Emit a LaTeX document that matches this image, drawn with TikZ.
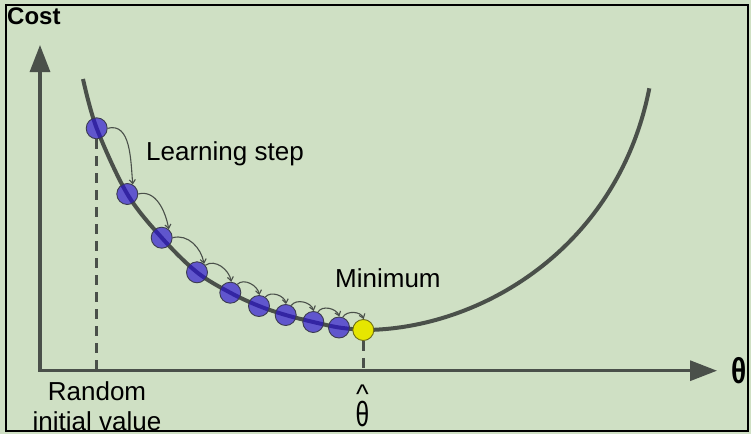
\documentclass[tikz,border=0pt]{standalone}
\usepackage{fontspec}
\setmainfont{Liberation Sans}
\usetikzlibrary{arrows.meta}
\definecolor{bg}{RGB}{207,224,196}
\definecolor{axisgray}{RGB}{74,80,74}
\definecolor{ballblue}{RGB}{40,15,210}
\definecolor{ballyellow}{RGB}{230,230,0}
\definecolor{ballrim}{RGB}{60,60,80}
\definecolor{yellowrim}{RGB}{110,110,20}
\begin{document}
\begin{tikzpicture}[x=1pt,y=-1pt,
  ball/.style={circle,minimum size=21pt,inner sep=0pt,draw=ballrim,line width=0.9pt,fill=ballblue,fill opacity=0.66},
  minball/.style={circle,minimum size=21pt,inner sep=0pt,draw=yellowrim,line width=0.9pt,fill=ballyellow},
  axisline/.style={draw=axisgray,line width=3.2pt,{Triangle[length=27pt,width=20pt]}-{Triangle[length=27pt,width=20pt]}},
  curveline/.style={draw=axisgray,line width=4pt},
  dashline/.style={draw=axisgray,line width=2.5pt,dash pattern=on 10pt off 7pt},
  stepline/.style={draw=axisgray,line width=1.1pt,-{Straight Barb[length=4pt,width=6pt]}},
  lbl/.style={font=\fontsize{26}{30}\selectfont,inner sep=0pt,text=black}]
\useasboundingbox (0,0) rectangle (751,434);
\fill[bg] (0,0) rectangle (751,434);
\draw[black,line width=1.5pt] (6,5) rectangle (748,431);

% axes
\coordinate (ytip) at (40,45);
\coordinate (origin) at (40,370.7);
\coordinate (xtip) at (717,370.7);
\draw[axisline] (ytip) -- (origin) -- (xtip);

% cost curve
\coordinate (cmin) at (363.3,330);
\coordinate (cend) at (649.3,88.3);
\draw[curveline] plot[smooth,tension=0.55] coordinates {(83,79) (96.7,128.3) (127.3,194) (161.7,237.7) (197,272.3) (230.3,292.7) (259,306) (285.7,315) (313.3,322) (339,327.5) (363.3,330)};
\draw[curveline] (cmin) .. controls (480,330) and (618,248) .. (cend);

% balls
\node[ball] (b1) at (96.7,128.3) {};
\node[ball] (b2) at (127.3,194) {};
\node[ball] (b3) at (161.7,237.7) {};
\node[ball] (b4) at (197,272.3) {};
\node[ball] (b5) at (230.3,292.7) {};
\node[ball] (b6) at (259,306) {};
\node[ball] (b7) at (285.7,315) {};
\node[ball] (b8) at (313.3,322) {};
\node[ball] (b9) at (339,327.5) {};
\node[minball] (bmin) at (cmin) {};

% dashed guides
\draw[dashline] (b1.south) -- (b1.south |- origin);
\draw[dashline] (bmin.south) -- (bmin.south |- origin);

% learning steps
\draw[stepline] (b1.east) to[out=15,in=95] (b2.60);
\draw[stepline] (b2.east) to[out=15,in=100] (b3.50);
\draw[stepline] (b3.east) to[out=15,in=100] (b4.50);
\draw[stepline] (b4.40) to[out=35,in=100] (b5.85);
\draw[stepline] (b5.50) to[out=45,in=100] (b6.88);
\draw[stepline] (b6.55) to[out=50,in=100] (b7.88);
\draw[stepline] (b7.60) to[out=55,in=105] (b8.88);
\draw[stepline] (b8.65) to[out=60,in=110] (b9.88);
\draw[stepline] (b9.70) to[out=60,in=110] (bmin.88);

% labels
\node[font=\fontsize{24}{28}\selectfont\bfseries,inner sep=0pt,anchor=base west] (cost) at (7,24) {Cost};
\node[lbl,anchor=base west] (learn) at (146,160) {Learning step};
\node[lbl,anchor=base west] (minimum) at (335,287) {Minimum};
\node[lbl,anchor=base] (random) at (97,400) {Random};
\node[lbl,anchor=base] (initial) at (97,430) {initial value};
\node[font=\fontsize{27}{30}\selectfont,inner sep=0pt,anchor=base] (hat) at (362.5,403) {\textasciicircum};
\node[font=\fontsize{35}{38}\selectfont,inner sep=0pt,text height=22pt,anchor=base] (thetahat) at (362.5,426.5) {\scalebox{0.7}[1]{θ}};
\node[font=\fontsize{36}{40}\selectfont\bfseries,inner sep=0pt,anchor=base] (theta) at (739,383) {\scalebox{0.78}[1]{θ}};
\end{tikzpicture}
\end{document}
